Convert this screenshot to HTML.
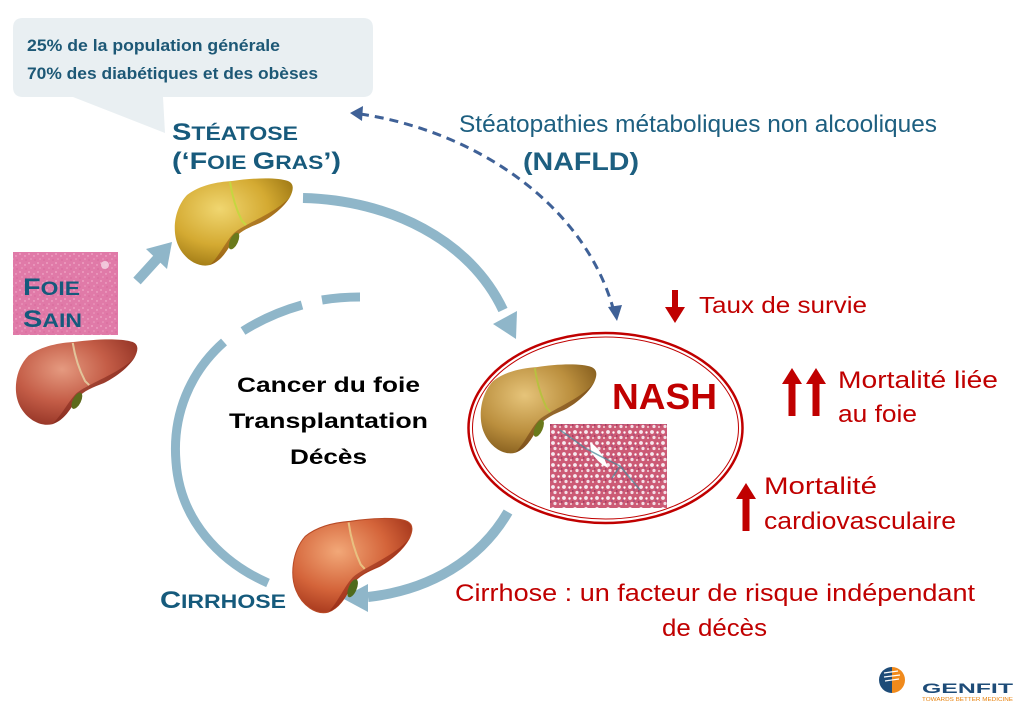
<!DOCTYPE html>
<html><head><meta charset="utf-8">
<style>html,body{margin:0;padding:0;background:#fff}svg{display:block}</style>
</head><body>
<svg width="1024" height="705" viewBox="0 0 1024 705" xmlns="http://www.w3.org/2000/svg" font-family="'Liberation Sans', Arial, sans-serif">
<defs>
  <radialGradient id="gRed" cx="0.38" cy="0.35" r="0.75">
    <stop offset="0" stop-color="#e59a80"/><stop offset="0.5" stop-color="#c45d47"/><stop offset="1" stop-color="#8c2d20"/>
  </radialGradient>
  <radialGradient id="gYel" cx="0.38" cy="0.35" r="0.75">
    <stop offset="0" stop-color="#f0d670"/><stop offset="0.55" stop-color="#d4aa32"/><stop offset="1" stop-color="#95700f"/>
  </radialGradient>
  <radialGradient id="gNash" cx="0.38" cy="0.35" r="0.75">
    <stop offset="0" stop-color="#e6c47a"/><stop offset="0.55" stop-color="#bb8f3e"/><stop offset="1" stop-color="#7c5518"/>
  </radialGradient>
  <radialGradient id="gCir" cx="0.38" cy="0.35" r="0.75">
    <stop offset="0" stop-color="#f2a878"/><stop offset="0.55" stop-color="#d4643a"/><stop offset="1" stop-color="#9c2e16"/>
  </radialGradient>
  <pattern id="pSain" width="9" height="9" patternUnits="userSpaceOnUse">
    <rect width="9" height="9" fill="#e07aa8"/>
    <circle cx="2" cy="2" r="0.9" fill="#f2a9c8"/>
    <circle cx="7" cy="4" r="0.7" fill="#f5b8d2"/>
    <circle cx="4" cy="7" r="0.8" fill="#eea0c2"/>
    <circle cx="8" cy="8" r="0.5" fill="#c9508a"/>
  </pattern>
  <pattern id="pNash" width="11" height="11" patternUnits="userSpaceOnUse">
    <rect width="11" height="11" fill="#cc5a75"/>
    <circle cx="3" cy="3" r="1.9" fill="#f7eaf0"/>
    <circle cx="8.5" cy="3.5" r="1.2" fill="#fff"/>
    <circle cx="5" cy="8.5" r="1.6" fill="#f3dfe7"/>
    <circle cx="10" cy="9" r="0.9" fill="#fff"/>
    <circle cx="0.8" cy="7" r="0.7" fill="#8a2a5a"/>
    <circle cx="7" cy="6" r="0.6" fill="#6a3a8a"/>
  </pattern>
</defs>

<!-- Callout bubble -->
<path d="M23,18 H363 Q373,18 373,28 V87 Q373,97 363,97 H163 L165,133 L73,97 H23 Q13,97 13,87 V28 Q13,18 23,18 Z" fill="#e9eff2"/>
<text x="27" y="51" font-size="17" font-weight="bold" fill="#1d5876" textLength="253" lengthAdjust="spacingAndGlyphs">25% de la population générale</text>
<text x="27" y="79" font-size="17" font-weight="bold" fill="#1d5876" textLength="291" lengthAdjust="spacingAndGlyphs">70% des diabétiques et des obèses</text>

<!-- Steatose title -->
<text x="172" y="140" font-weight="bold" fill="#175a7c" textLength="126" lengthAdjust="spacingAndGlyphs"><tspan font-size="24">S</tspan><tspan font-size="19">TÉATOSE</tspan></text>
<text x="172" y="169" font-weight="bold" fill="#175a7c" textLength="169" lengthAdjust="spacingAndGlyphs"><tspan font-size="24">(‘F</tspan><tspan font-size="19">OIE </tspan><tspan font-size="24">G</tspan><tspan font-size="19">RAS</tspan><tspan font-size="24">’)</tspan></text>

<!-- NAFLD text -->
<text x="459" y="132" font-size="24" fill="#1d5f80" textLength="478" lengthAdjust="spacingAndGlyphs">Stéatopathies métaboliques non alcooliques</text>
<text x="523" y="170" font-size="25" font-weight="bold" fill="#1d5f80" textLength="116" lengthAdjust="spacingAndGlyphs">(NAFLD)</text>

<!-- Dashed bidirectional arrow -->
<path d="M360,114 C470,130 582,200 613,308" fill="none" stroke="#3f6197" stroke-width="3" stroke-dasharray="9,6"/>
<polygon points="350,113 363,106 362,121" fill="#3f6197"/>
<polygon points="617,321 608,307 622,305" fill="#3f6197"/>

<!-- Foie sain histology -->
<rect x="13" y="252" width="105" height="83" fill="url(#pSain)"/>
<circle cx="105" cy="265" r="4" fill="#f5d8e6" opacity="0.8"/>
<text x="23" y="295" font-weight="bold" fill="#155a7c" textLength="57" lengthAdjust="spacingAndGlyphs"><tspan font-size="24">F</tspan><tspan font-size="19">OIE</tspan></text>
<text x="23" y="327" font-weight="bold" fill="#155a7c" textLength="59" lengthAdjust="spacingAndGlyphs"><tspan font-size="24">S</tspan><tspan font-size="19">AIN</tspan></text>

<!-- Healthy liver -->
<g transform="translate(13,338) scale(1.03,0.98)">
  <path d="M15,18 C28,8 45,5 60,4 C80,1 105,0 116,4 C123,7 121,14 118,20 C112,30 100,40 88,46 C78,50 68,54 62,62 C56,72 50,84 38,88 C26,91 12,82 6,68 C0,54 2,32 15,18 Z" fill="url(#gRed)"/>
  <path d="M118,20 C112,30 100,40 88,46 C78,50 68,54 62,62 C56,72 50,84 38,88 C48,78 54,64 62,56 C74,46 104,36 118,20 Z" fill="#7a2218" opacity="0.55"/>
  <path d="M58,5 C60,18 64,32 70,44 L74,48" fill="none" stroke="#e2c49a" stroke-width="2"/>
  <ellipse cx="62" cy="64" rx="4" ry="9" transform="rotate(25 62 64)" fill="#5d6a1c"/>
</g>

<!-- Arrow sain -> steatose -->
<line x1="137" y1="281" x2="157" y2="259" stroke="#8fb6c9" stroke-width="10"/>
<polygon points="172,242 167,269 146,249" fill="#8fb6c9"/>

<!-- Steatose liver -->
<g transform="translate(172,177) scale(1,1)">
  <path d="M15,18 C28,8 45,5 60,4 C80,1 105,0 116,4 C123,7 121,14 118,20 C112,30 100,40 88,46 C78,50 68,54 62,62 C56,72 50,84 38,88 C26,91 12,82 6,68 C0,54 2,32 15,18 Z" fill="url(#gYel)"/>
  <path d="M118,20 C112,30 100,40 88,46 C78,50 68,54 62,62 C56,72 50,84 38,88 C48,78 54,64 62,56 C74,46 104,36 118,20 Z" fill="#8a4a10" opacity="0.55"/>
  <path d="M58,5 C60,18 64,32 70,44 L74,48" fill="none" stroke="#c6d640" stroke-width="2"/>
  <ellipse cx="62" cy="64" rx="4" ry="9" transform="rotate(25 62 64)" fill="#6a7a1c"/>
</g>

<!-- Big arc steatose -> NASH -->
<path d="M303,198 C390,200 470,240 503,310" fill="none" stroke="#8fb6c9" stroke-width="10"/>
<polygon points="516,339 517,311 493,324" fill="#8fb6c9"/>

<!-- Left dashed/solid arc -->
<path d="M322,300 Q340,297 360,297" fill="none" stroke="#8fb6c9" stroke-width="9"/>
<path d="M243,331 Q270,314 302,305" fill="none" stroke="#8fb6c9" stroke-width="9"/>
<path d="M224,342 C190,372 172,415 176,462 C180,520 220,562 268,583" fill="none" stroke="#8fb6c9" stroke-width="9"/>

<!-- Center text -->
<text x="237" y="392" font-size="21" font-weight="bold" fill="#000" textLength="183" lengthAdjust="spacingAndGlyphs">Cancer du foie</text>
<text x="229" y="428" font-size="21" font-weight="bold" fill="#000" textLength="199" lengthAdjust="spacingAndGlyphs">Transplantation</text>
<text x="290" y="464" font-size="21" font-weight="bold" fill="#000" textLength="77" lengthAdjust="spacingAndGlyphs">Décès</text>

<!-- NASH ellipse -->
<ellipse cx="605.5" cy="428" rx="137" ry="95" fill="#fff" stroke="#c00000" stroke-width="2.5"/>
<ellipse cx="605.5" cy="428" rx="133" ry="91" fill="none" stroke="#c00000" stroke-width="1"/>

<!-- NASH liver -->
<g transform="translate(478,363) scale(0.98,1.02)">
  <path d="M15,18 C28,8 45,5 60,4 C80,1 105,0 116,4 C123,7 121,14 118,20 C112,30 100,40 88,46 C78,50 68,54 62,62 C56,72 50,84 38,88 C26,91 12,82 6,68 C0,54 2,32 15,18 Z" fill="url(#gNash)"/>
  <path d="M118,20 C112,30 100,40 88,46 C78,50 68,54 62,62 C56,72 50,84 38,88 C48,78 54,64 62,56 C74,46 104,36 118,20 Z" fill="#6a3a10" opacity="0.55"/>
  <path d="M58,5 C60,18 64,32 70,44 L74,48" fill="none" stroke="#b8c040" stroke-width="2"/>
  <ellipse cx="62" cy="64" rx="4" ry="9" transform="rotate(25 62 64)" fill="#6a7a1c"/>
</g>
<text x="612" y="409" font-size="36" font-weight="bold" fill="#c00000" textLength="105" lengthAdjust="spacingAndGlyphs">NASH</text>
<rect x="550" y="424" width="117" height="84" fill="url(#pNash)"/>
<path d="M590,442 Q602,450 608,468 Q598,463 591,452 Z" fill="#fff"/>
<path d="M560,430 L585,448 L600,456 L620,466 L612,478 M620,466 L640,490" fill="none" stroke="#4a8a9a" stroke-width="1.5" opacity="0.75"/>

<!-- Right red text -->
<rect x="672" y="290" width="6" height="18" fill="#c00000"/>
<polygon points="665,307 685,307 675,323" fill="#c00000"/>
<text x="699" y="313" font-size="23" fill="#c00000" textLength="168" lengthAdjust="spacingAndGlyphs">Taux de survie</text>

<polygon points="792,368 782,384 802,384" fill="#c00000"/>
<rect x="788.5" y="383" width="7" height="33" fill="#c00000"/>
<polygon points="816,368 806,384 826,384" fill="#c00000"/>
<rect x="812.5" y="383" width="7" height="33" fill="#c00000"/>
<text x="838" y="388" font-size="24" fill="#c00000" textLength="160" lengthAdjust="spacingAndGlyphs">Mortalité liée</text>
<text x="838" y="422" font-size="24" fill="#c00000" textLength="79" lengthAdjust="spacingAndGlyphs">au foie</text>

<polygon points="746,483 736,499 756,499" fill="#c00000"/>
<rect x="742.5" y="498" width="7" height="33" fill="#c00000"/>
<text x="764" y="494" font-size="24" fill="#c00000" textLength="113" lengthAdjust="spacingAndGlyphs">Mortalité</text>
<text x="764" y="529" font-size="24" fill="#c00000" textLength="192" lengthAdjust="spacingAndGlyphs">cardiovasculaire</text>

<text x="455" y="601" font-size="24" fill="#c00000" textLength="520" lengthAdjust="spacingAndGlyphs">Cirrhose : un facteur de risque indépendant</text>
<text x="662" y="636" font-size="24" fill="#c00000" textLength="105" lengthAdjust="spacingAndGlyphs">de décès</text>

<!-- Arrow NASH -> cirrhose -->
<path d="M508,512 C480,560 430,590 368,597" fill="none" stroke="#8fb6c9" stroke-width="10"/>
<polygon points="342,598 368,584 368,612" fill="#8fb6c9"/>

<!-- Cirrhosis liver -->
<g transform="translate(290,517) scale(1.01,1.08)">
  <path d="M15,18 C28,8 45,5 60,4 C80,1 105,0 116,4 C123,7 121,14 118,20 C112,30 100,40 88,46 C78,50 68,54 62,62 C56,72 50,84 38,88 C26,91 12,82 6,68 C0,54 2,32 15,18 Z" fill="url(#gCir)" stroke="#b84a26" stroke-width="1"/>
  <path d="M118,20 C112,30 100,40 88,46 C78,50 68,54 62,62 C56,72 50,84 38,88 C48,78 54,64 62,56 C74,46 104,36 118,20 Z" fill="#8a2010" opacity="0.55"/>
  <path d="M58,5 C60,18 64,32 70,44 L74,48" fill="none" stroke="#e8c080" stroke-width="2"/>
  <ellipse cx="62" cy="66" rx="4" ry="9" transform="rotate(25 62 66)" fill="#4f6a1c"/>
</g>

<text x="160" y="608" font-weight="bold" fill="#155a7c" textLength="126" lengthAdjust="spacingAndGlyphs"><tspan font-size="24">C</tspan><tspan font-size="19">IRRHOSE</tspan></text>

<!-- GENFIT logo -->
<g>
  <path d="M892,667 A13,13 0 0 0 892,693 Z" fill="#1e4c78"/>
  <path d="M892,667 A13,13 0 0 1 892,693 Z" fill="#f08a1c"/>
  <path d="M884,673 L898,671 M884,677 L900,675 M885,681 L899,679" stroke="#fff" stroke-width="1.2"/>
  <text x="922" y="693" font-size="14" font-weight="bold" fill="#1e4c78" textLength="91" lengthAdjust="spacingAndGlyphs">GENFIT</text>
  <text x="922" y="701" font-size="5.5" fill="#e8820c" textLength="91" lengthAdjust="spacingAndGlyphs">TOWARDS BETTER MEDICINE</text>
</g>
</svg>
</body></html>
